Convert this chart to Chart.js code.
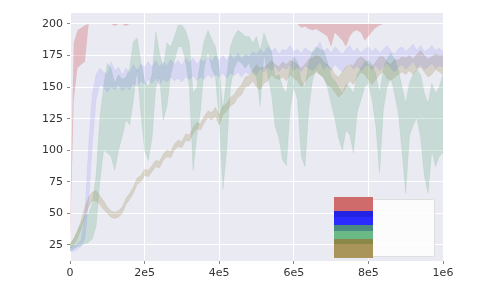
<!DOCTYPE html>
<html>
<head>
<meta charset="utf-8">
<script src="https://cdn.jsdelivr.net/npm/chart.js@4"></script>
<style>
  html, body { margin: 0; padding: 0; background: #fff; }
  #wrap { width: 479px; height: 305px; }
</style>
</head>
<body>
<div id="wrap"><canvas id="chart" width="479" height="305"></canvas></div>
<script>
// x positions of the samples (every 10000 steps)
const stepSize = 10000;

const redLow = [25, 140, 165, 168, 170, 200, 200, 200, 200, 200,
  200, 200, 198.5, 200, 200, 198.5, 200, 200, 200, 200,
  200, 200, 200, 200, 200, 200, 200, 200, 200, 200,
  200, 200, 200, 200, 200, 200, 200, 200, 200, 200,
  200, 200, 200, 200, 200, 200, 200, 200, 200, 200,
  200, 200, 200, 200, 200, 200, 200, 200, 200, 200,
  200, 200, 197, 198, 196, 195, 196, 194, 192, 190,
  182, 193, 190, 187, 182, 190, 194, 195, 193, 187,
  190, 194, 197, 199, 200, 200, 200, 200, 200, 200,
  200, 200, 200, 200, 200, 200, 200, 200, 200, 200, 200];
const redHigh = [40, 185, 195, 197, 199, 200, 200, 200, 200, 200,
  200, 200, 200, 200, 200, 200, 200, 200, 200, 200,
  200, 200, 200, 200, 200, 200, 200, 200, 200, 200,
  200, 200, 200, 200, 200, 200, 200, 200, 200, 200,
  200, 200, 200, 200, 200, 200, 200, 200, 200, 200,
  200, 200, 200, 200, 200, 200, 200, 200, 200, 200,
  200, 200, 200, 200, 200, 200, 200, 200, 200, 200,
  200, 200, 200, 200, 200, 200, 200, 200, 200, 200,
  200, 200, 200, 200, 200, 200, 200, 200, 200, 200,
  200, 200, 200, 200, 200, 200, 200, 200, 200, 200, 200];

const blueLow = [20, 20, 22, 24, 30, 60, 105, 140, 152, 150,
  146, 150, 148, 152, 147, 150, 148, 153, 150, 155,
  152, 156, 153, 157, 152, 156, 154, 158, 155, 157,
  154, 158, 156, 159, 155, 158, 156, 160, 157, 160,
  158, 161, 157, 161, 159, 162, 158, 162, 160, 163,
  160, 165, 162, 166, 163, 167, 162, 166, 164, 168,
  163, 166, 162, 167, 165, 163, 166, 170, 164, 167,
  163, 168, 165, 162, 166, 169, 164, 167, 163, 166,
  168, 164, 167, 163, 166, 169, 165, 162, 166, 168,
  164, 167, 170, 165, 168, 164, 166, 169, 165, 167, 166];
const blueHigh = [23, 24, 26, 29, 50, 105, 145, 160, 165, 162,
  160, 170, 163, 166, 160, 165, 161, 168, 163, 168,
  166, 170, 166, 171, 166, 170, 167, 172, 168, 171,
  167, 173, 169, 173, 168, 172, 170, 174, 170, 175,
  171, 175, 171, 176, 172, 177, 172, 176, 174, 178,
  176, 180, 177, 182, 178, 181, 176, 180, 179, 183,
  178, 180, 177, 181, 179, 177, 180, 186, 178, 181,
  177, 182, 179, 176, 180, 183, 178, 181, 177, 180,
  182, 178, 181, 177, 180, 183, 179, 176, 180, 182,
  178, 181, 184, 179, 183, 178, 180, 183, 179, 181, 178];

const greenLow = [20, 22, 24, 25, 26, 27, 30, 40, 75, 100,
  98, 95, 84, 100, 111, 124, 120, 140, 164, 130,
  100, 92, 110, 150, 158, 124, 135, 160, 171, 182,
  182, 171, 150, 84, 111, 132, 166, 179, 165, 158,
  124, 69, 100, 150, 165, 171, 169, 165, 169, 161,
  158, 135, 177, 160, 145, 119, 110, 92, 88, 132,
  150, 140, 95, 87, 132, 155, 164, 160, 158, 150,
  137, 125, 110, 100, 116, 112, 98, 130, 140, 150,
  153, 140, 119, 82, 132, 150, 158, 145, 130, 100,
  66, 111, 120, 126, 110, 80, 66, 100, 87, 95, 98];
const greenHigh = [25, 30, 36, 42, 48, 50, 58, 80, 125, 150,
  169, 165, 153, 160, 156, 158, 165, 186, 189, 170,
  155, 150, 160, 194, 177, 165, 185, 182, 190, 199,
  199, 195, 185, 145, 150, 171, 187, 195, 188, 182,
  165, 132, 158, 182, 190, 195, 193, 190, 190, 185,
  190, 179, 193, 185, 179, 158, 160, 150, 145, 166,
  174, 170, 155, 150, 169, 178, 182, 180, 179, 170,
  158, 155, 150, 145, 152, 150, 145, 160, 165, 170,
  171, 168, 160, 145, 164, 172, 177, 172, 164, 150,
  137, 153, 160, 164, 160, 145, 137, 153, 145, 150, 160];

const oliveLow = [22, 25, 30, 38, 48, 55, 60, 60, 57, 53,
  50, 47, 46, 47, 50, 57, 61, 66, 73, 75,
  80, 79, 83, 87, 86, 92, 95, 94, 100, 103,
  102, 108, 107, 113, 117, 116, 122, 126, 124, 127,
  120, 128, 131, 135, 137, 142, 144, 150, 151, 155,
  150, 148, 153, 155, 160, 157, 156, 158, 155, 160,
  157, 155, 150, 154, 158, 160, 162, 160, 157, 152,
  150, 146, 142, 145, 150, 155, 152, 158, 162, 160,
  156, 152, 156, 160, 162, 157, 155, 158, 160, 162,
  160, 163, 160, 164, 166, 162, 158, 160, 164, 162, 160];
const oliveHigh = [26, 30, 36, 45, 55, 63, 67, 68, 64, 60,
  55, 52, 51, 52, 55, 62, 66, 71, 78, 80,
  85, 84, 88, 92, 91, 97, 100, 99, 105, 108,
  107, 113, 112, 118, 122, 121, 127, 131, 130, 134,
  128, 135, 137, 142, 144, 149, 152, 158, 159, 163,
  168, 165, 166, 168, 171, 168, 166, 170, 168, 171,
  170, 168, 165, 168, 172, 173, 175, 174, 170, 168,
  165, 160, 158, 162, 166, 168, 167, 172, 174, 172,
  168, 166, 170, 174, 174, 170, 168, 172, 171, 174,
  173, 175, 172, 176, 179, 175, 172, 174, 176, 175, 175];

const xTicks = [0, 200000, 400000, 600000, 800000, 1000000];
const xTickLabels = ['0', '2e5', '4e5', '6e5', '8e5', '1e6'];
const yTicks = [25, 50, 75, 100, 125, 150, 175, 200];

const bands = [
  { low: redLow, high: redHigh, fill: 'rgba(205, 70, 75, 0.28)', edge: 0 },
  { low: blueLow, high: blueHigh, fill: 'rgba(50, 50, 255, 0.10)', edge: 0.5 },
  { low: greenLow, high: greenHigh, fill: 'rgba(50, 150, 90, 0.18)', edge: 0.5 },
  { low: oliveLow, high: oliveHigh, fill: 'rgba(140, 115, 40, 0.20)', edge: 0.5 }
];

const toPoints = arr => arr.map((v, i) => ({ x: i * stepSize, y: v }));

const datasets = [];
bands.forEach(b => {
  datasets.push({
    data: toPoints(b.low),
    borderColor: b.fill,
    borderWidth: b.edge,
    pointRadius: 0,
    fill: false
  });
  datasets.push({
    data: toPoints(b.high),
    borderColor: b.fill,
    borderWidth: b.edge,
    pointRadius: 0,
    backgroundColor: b.fill,
    fill: '-1'
  });
});

// grey plot background like seaborn
const bgPlugin = {
  id: 'bg',
  beforeDraw(chart) {
    const a = chart.chartArea;
    const c = chart.ctx;
    c.save();
    c.fillStyle = '#EAEAF2';
    c.fillRect(a.left, a.top, a.right - a.left, a.bottom - a.top);
    c.restore();
  }
};

// label-less legend box with stacked colour patches
const legendPlugin = {
  id: 'patchLegend',
  afterDraw(chart) {
    const a = chart.chartArea;
    const c = chart.ctx;
    const right = a.right - 9;
    const bottom = a.bottom - 5;
    const left = right - 100;
    const top = bottom - 57;
    c.save();
    c.fillStyle = 'rgba(255,255,255,0.85)';
    c.strokeStyle = 'rgba(220,220,220,0.9)';
    c.lineWidth = 1;
    c.beginPath();
    c.roundRect(left + 0.5, top + 0.5, 100, 57, 2);
    c.fill();
    c.stroke();
    const strips = [
      [-2, 14, '#cf6b6b'],
      [12, 6, '#2323e3'],
      [18, 8, '#2b2bff'],
      [26, 6, '#4a8a80'],
      [32, 8, '#6bb986'],
      [40, 5, '#8a8848'],
      [45, 14, '#a9955a']
    ];
    strips.forEach(s => {
      c.fillStyle = s[2];
      c.fillRect(left, top + s[0], 39, s[1]);
    });
    c.restore();
  }
};

const font = { family: 'DejaVu Sans', size: 11 };

new Chart(document.getElementById('chart'), {
  type: 'line',
  data: { datasets },
  plugins: [bgPlugin, legendPlugin],
  options: {
    responsive: false,
    animation: false,
    layout: { padding: { top: 13, right: 36, left: 0, bottom: 0 } },
    plugins: { legend: { display: false }, tooltip: { enabled: false } },
    elements: { line: { tension: 0 } },
    scales: {
      x: {
        type: 'linear',
        min: 0,
        max: 1000000,
        border: { display: false },
        grid: { color: '#ffffff', lineWidth: 1, tickColor: '#888', tickLength: 3 },
        afterBuildTicks: s => { s.ticks = xTicks.map(v => ({ value: v })); },
        afterFit: s => { s.height = 44; },
        ticks: {
          color: '#333',
          font,
          padding: 3,
          maxRotation: 0,
          callback: (v) => xTickLabels[xTicks.indexOf(v)]
        }
      },
      y: {
        min: 12.3,
        max: 208.7,
        border: { display: false },
        grid: { color: '#ffffff', lineWidth: 1, tickColor: '#888', tickLength: 3 },
        afterBuildTicks: s => { s.ticks = yTicks.map(v => ({ value: v })); },
        afterFit: s => { s.width = 70; },
        ticks: { color: '#333', font, padding: 4 }
      }
    }
  }
});
</script>
</body>
</html>
